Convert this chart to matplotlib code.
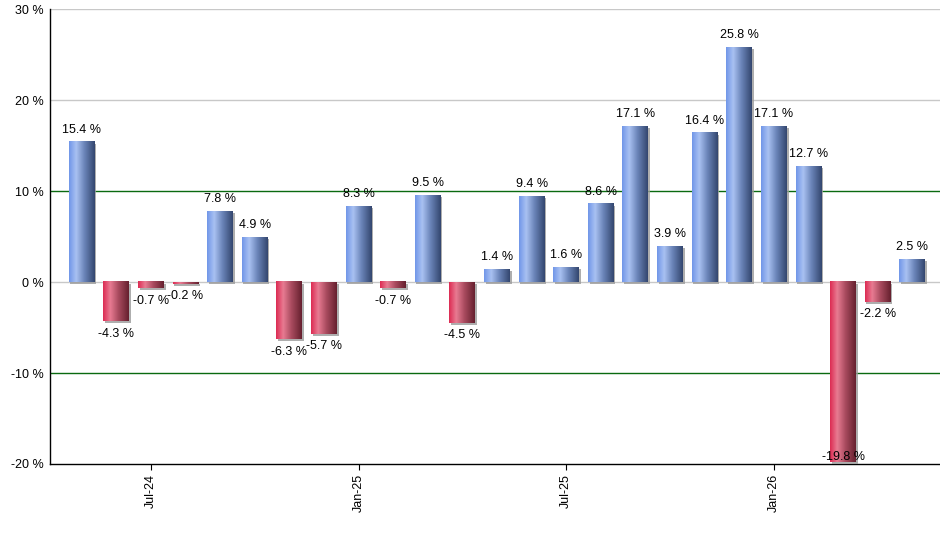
import numpy as np
import matplotlib
matplotlib.use("Agg")
import matplotlib.pyplot as plt
import matplotlib.patheffects as pe
from matplotlib.colors import LinearSegmentedColormap

plt.rcParams['font.family'] = ['Liberation Sans', 'DejaVu Sans']

# monthly returns, May-24 .. May-26
months = ['May-24', 'Jun-24', 'Jul-24', 'Aug-24', 'Sep-24', 'Oct-24', 'Nov-24', 'Dec-24',
          'Jan-25', 'Feb-25', 'Mar-25', 'Apr-25', 'May-25', 'Jun-25', 'Jul-25', 'Aug-25',
          'Sep-25', 'Oct-25', 'Nov-25', 'Dec-25', 'Jan-26', 'Feb-26', 'Mar-26', 'Apr-26',
          'May-26']
values = [15.4, -4.3, -0.7, -0.2, 7.8, 4.9, -6.3, -5.7,
          8.3, -0.7, 9.5, -4.5, 1.4, 9.4, 1.6, 8.6,
          17.1, 3.9, 16.4, 25.8, 17.1, 12.7, -19.8, -2.2,
          2.5]
tick_labels = ['Jul-24', 'Jan-25', 'Jul-25', 'Jan-26']
y_ticks = [-20, -10, 0, 10, 20, 30]

blue_cmap = LinearSegmentedColormap.from_list(
    'blue', [(0.0, '#7096e8'), (0.28, '#a9c1f2'), (0.6, '#6a84b8'), (1.0, '#33466e')])
red_cmap = LinearSegmentedColormap.from_list(
    'red', [(0.0, '#dc2a52'), (0.28, '#e87b92'), (0.6, '#a84a5e'), (1.0, '#65202e')])

fig = plt.figure(figsize=(9.4, 5.5), dpi=100)
ax = fig.add_axes([49.5 / 940, 1 - 464 / 550, (940 - 49.5) / 940, (464 - 9.3) / 550])

x = np.arange(len(values))
bars = ax.bar(x, values, width=0.75, facecolor='none', edgecolor='none', zorder=3)

ax.set_xlim(-0.93, 24.8)
ax.set_ylim(-20, 30)

grad = np.linspace(0, 1, 256).reshape(1, -1)
for b, v in zip(bars, values):
    x0, y0 = b.get_x(), b.get_y()
    w, h = b.get_width(), b.get_height()
    cmap = blue_cmap if v >= 0 else red_cmap
    # thin shadow on the right / bottom
    b.set_path_effects([pe.SimplePatchShadow(offset=(1.2, -1.2), shadow_rgbFace='#9a9a9a', alpha=0.8)])
    ax.imshow(grad, cmap=cmap, aspect='auto', extent=[x0, x0 + w, y0, y0 + h],
              zorder=4, interpolation='bilinear')

# labels
for xi, v in zip(x, values):
    if v >= 0:
        ax.text(xi, v + 0.7, f'{v} %', ha='center', va='bottom', fontsize=9, zorder=5)
    elif v - 2.5 < -20:
        ax.text(xi, -19.9, f'{v} %', ha='center', va='bottom', fontsize=9, zorder=5)
    else:
        ax.text(xi, v - 0.7, f'{v} %', ha='center', va='top', fontsize=9, zorder=5)

# gridlines
for yv in y_ticks[1:]:
    if yv in (10, -10):
        ax.axhline(yv, color='#0a6a10', lw=1.0, zorder=1)
    else:
        ax.axhline(yv, color='#c8c8c8', lw=1.0, zorder=1)

ax.set_yticks(y_ticks)
ax.set_yticklabels([f'{t} %' for t in y_ticks], fontsize=9)
ax.tick_params(axis='y', length=0, pad=4)

ax.set_xticks([months.index(m) for m in tick_labels])
ax.set_xticklabels(tick_labels, rotation=90, fontsize=9)
ax.tick_params(axis='x', length=4, direction='out', pad=3)

for s in ['top', 'right']:
    ax.spines[s].set_visible(False)
ax.spines['left'].set_color('black')
ax.spines['bottom'].set_color('black')
ax.spines['left'].set_linewidth(1.0)
ax.spines['bottom'].set_linewidth(1.0)

fig.savefig('out.png', dpi=100)
